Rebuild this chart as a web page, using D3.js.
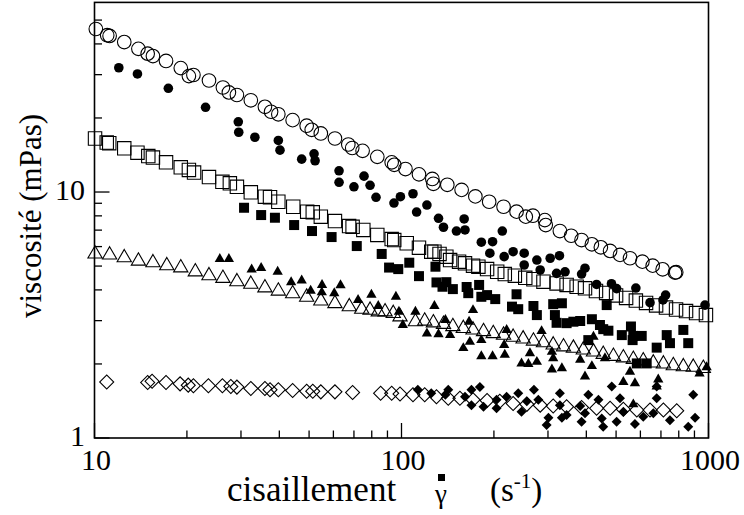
<!DOCTYPE html>
<html><head><meta charset="utf-8">
<script src="https://cdn.jsdelivr.net/npm/d3@7"></script>
<style>body{margin:0;background:#fff}svg{display:block}text{font-family:"Liberation Serif","Times New Roman",serif;fill:#000}</style>
</head><body><svg id="c" width="744" height="515"></svg>
<script>
// ---- data: [shear rate (1/s), viscosity (mPas)] ----
const openCircles = [[10.1,46.0],[11.0,43.4],[11.2,43.1],[12.5,40.7],[13.9,38.2],[14.9,36.5],[15.5,35.7],[17.1,34.1],[19.1,31.9],[20.3,29.6],[21.0,29.9],[23.6,28.4],[26.2,26.6],[27.4,25.4],[29.1,24.8],[32.3,23.6],[35.9,22.2],[37.6,21.2],[39.7,20.7],[44.2,19.6],[49.1,18.6],[51.0,17.9],[54.6,17.3],[60.7,16.5],[67.1,15.6],[69.1,15.1],[74.7,14.7],[83.4,13.9],[92.9,13.2],[94.7,12.9],[103,12.4],[114,11.8],[126,11.3],[127,10.8],[141,10.7],[157,10.2],[174,9.6],[193,9.13],[215,8.71],[237,8.32],[254,7.94],[268,8.01],[293,7.69],[295,7.34],[328,6.94],[357,6.64],[386,6.38],[417,6.13],[446,5.96],[478,5.76],[515,5.55],[555,5.38],[609,5.21],[658,5.02],[709,4.85],[778,4.70],[785,4.72]];
const filledCircles = [[12.0,32.0],[13.8,30.2],[17.4,26.4],[23.0,22.1],[29.4,19.3],[29.5,17.5],[33.3,16.7],[39.7,16.2],[40.2,14.8],[47.3,13.6],[51.9,14.3],[52.3,13.4],[62.6,12.2],[62.6,10.95],[70.0,10.5],[75.5,11.6],[79.0,10.65],[82.6,9.52],[94.5,9.02],[99.2,9.57],[109,9.84],[112,8.29],[121,8.85],[132,7.82],[160,7.77],[137,7.19],[151,6.94],[161,7.01],[213,6.94],[182,6.25],[198,6.28],[194,5.64],[216,5.46],[231,5.72],[251,5.64],[251,5.05],[276,5.29],[283,4.82],[305,5.38],[327,5.51],[320,4.67],[341,4.74],[386,4.64],[396,4.90],[432,4.21],[483,4.24],[502,4.05],[580,4.07],[645,3.55],[711,3.64],[725,3.81],[974,3.47]];
const openSquares = [[10.04,16.5],[10.96,15.9],[11.17,15.8],[12.5,15.05],[13.8,14.45],[14.97,14.0],[15.5,13.8],[17.1,13.2],[19.1,12.6],[20.3,12.3],[21.1,12.0],[23.6,11.5],[26.1,11.0],[27.6,10.85],[29.1,10.5],[32.3,9.97],[35.9,9.57],[37.3,9.52],[39.7,9.13],[44.4,8.71],[49.3,8.32],[51.4,8.27],[54.6,7.94],[60.7,7.62],[67.5,7.27],[69.3,7.22],[75.1,7.01],[83.4,6.69],[92.9,6.44],[94.7,6.38],[104,6.19],[114,5.94],[125,5.72],[128,5.72],[133,5.60],[140,5.46],[144,5.29],[154,5.21],[161,5.13],[171,5.02],[178,4.97],[190,4.86],[205,4.74],[217,4.64],[234,4.57],[253,4.48],[269,4.42],[290,4.32],[320,4.25],[345,4.19],[372,4.12],[396,4.06],[430,3.96],[464,3.89],[500,3.80],[539,3.71],[580,3.62],[626,3.54],[675,3.46],[727,3.39],[784,3.33],[845,3.28],[911,3.22],[981,3.16]];
const filledSquares = [[30.7,8.63],[34.9,8.06],[38.7,7.86],[44.7,7.34],[51.1,6.94],[59.2,6.56],[71.5,6.03],[86.2,5.60],[91.1,4.93],[97.6,4.86],[106,5.16],[114,4.55],[129,4.97],[130,4.29],[136,4.12],[140,4.30],[147,4.03],[163,4.11],[165,3.88],[179,4.19],[182,3.75],[190,3.81],[202,3.67],[237,3.84],[229,3.42],[240,3.34],[269,3.44],[276,3.16],[312,3.50],[333,3.53],[316,3.16],[320,2.94],[345,2.93],[363,2.97],[382,2.99],[417,3.04],[406,2.50],[443,2.88],[454,2.77],[472,2.73],[466,3.47],[522,2.62],[559,2.84],[569,2.60],[606,2.60],[566,2.50],[584,2.01],[629,2.01],[678,2.33],[731,2.62],[749,2.43],[828,2.75],[859,2.43]];
const openTriangles = [[10.04,5.60],[11.2,5.55],[12.5,5.41],[13.9,5.24],[15.5,5.16],[17.2,5.02],[19.1,4.92],[21.3,4.74],[23.6,4.57],[26.2,4.46],[29.1,4.32],[32.3,4.22],[35.9,4.08],[39.7,3.96],[44.2,3.86],[49.1,3.74],[54.6,3.61],[60.7,3.52],[67.6,3.42],[74.2,3.34],[79.0,3.31],[84.0,3.26],[88.4,3.26],[94.0,3.21],[98.9,3.11],[111,2.97],[119,2.99],[127,2.94],[137,2.90],[147,2.84],[159,2.79],[171,2.75],[185,2.71],[199,2.66],[215,2.62],[231,2.57],[249,2.53],[269,2.48],[290,2.44],[312,2.39],[337,2.35],[363,2.32],[391,2.28],[422,2.24],[454,2.19],[490,2.15],[528,2.12],[569,2.09],[613,2.06],[661,2.02],[713,2.00],[768,1.97],[828,1.95],[892,1.94],[962,1.92]];
const filledTriangles = [[25.6,5.34],[27.4,5.34],[32.5,4.84],[34.9,4.91],[39.5,4.74],[43.7,4.30],[47.3,4.37],[50.6,3.97],[55.1,4.19],[55.0,3.91],[60.4,3.88],[63.3,4.18],[72.2,3.64],[79.8,3.82],[84.0,3.44],[95.9,3.75],[98.1,3.26],[101,2.88],[111,3.26],[128,3.44],[139,3.02],[121,2.66],[132,2.64],[144,2.62],[171,3.31],[166,2.97],[167,2.46],[159,2.32],[182,2.50],[182,2.15],[198,2.15],[217,2.18],[220,2.75],[216,2.39],[262,2.21],[246,2.01],[259,2.00],[276,2.04],[286,2.72],[309,2.24],[312,2.11],[309,1.90],[333,1.92],[382,2.08],[417,1.96],[396,1.78],[422,2.58],[460,2.11],[528,1.69],[576,1.67],[555,1.86],[686,1.73],[678,1.62],[569,1.37],[935,1.83],[986,1.94]];
const openDiamonds = [[10.96,1.69],[14.9,1.68],[15.4,1.70],[17.1,1.68],[19.0,1.66],[20.2,1.64],[21.0,1.63],[23.5,1.63],[26.1,1.63],[27.8,1.62],[29.1,1.61],[32.3,1.59],[35.9,1.59],[37.3,1.57],[39.7,1.57],[44.2,1.56],[49.1,1.55],[51.4,1.55],[54.6,1.54],[60.7,1.54],[69.3,1.53],[85.5,1.52],[92.9,1.52],[98.9,1.51],[109,1.50],[119,1.50],[130,1.47],[142,1.45],[155,1.45],[171,1.43],[190,1.42],[209,1.41],[231,1.38],[256,1.37],[283,1.36],[312,1.35],[345,1.34],[386,1.33],[432,1.32],[478,1.32],[528,1.31],[584,1.30],[645,1.30],[713,1.30],[788,1.29]];
const filledDiamonds = [[113,1.57],[125,1.52],[139,1.50],[142,1.57],[161,1.47],[169,1.57],[180,1.61],[169,1.36],[185,1.34],[204,1.43],[204,1.32],[220,1.47],[246,1.28],[240,1.52],[256,1.41],[270,1.57],[279,1.43],[301,1.21],[297,1.13],[328,1.52],[328,1.36],[333,1.21],[345,1.24],[382,1.35],[406,1.50],[386,1.165],[396,1.26],[454,1.11],[449,1.20],[438,1.43],[484,1.62],[502,1.165],[515,1.45],[528,1.28],[576,1.14],[613,1.22],[661,1.26],[678,1.45],[678,1.62],[749,1.18],[892,1.50],[904,1.21],[859,1.11]];
const xMajorTicks = [10, 100, 1000];
const xMinorTicks = [20,30,40,50,60,70,80,90,200,300,400,500,600,700,800,900];
const yMajorTicks = [1, 10];
const yMinorTicks = [2,3,4,5,6,7,8,9,20,30,40,50];
const xTickLabels = ["10","100","1000"];
const yTickLabels = ["1","10"];

const svg = d3.select("#c");
const x = d3.scaleLog().domain([10,1000]).range([94.5,708.5]);
const y = d3.scaleLog().domain([1,59]).range([438,2.4]);

// frame
svg.append("rect").attr("x",x(10)).attr("y",y(59)).attr("width",x(1000)-x(10)).attr("height",y(1)-y(59))
  .attr("fill","none").attr("stroke","#000").attr("stroke-width",1.6);

// ticks (inward)
const tk = svg.append("g").attr("stroke","#000").attr("stroke-width",1.3);
xMajorTicks.forEach(v=>tk.append("line").attr("x1",x(v)).attr("x2",x(v)).attr("y1",y(1)).attr("y2",y(1)-15));
xMinorTicks.forEach(v=>tk.append("line").attr("x1",x(v)).attr("x2",x(v)).attr("y1",y(1)).attr("y2",y(1)-7.5));
yMajorTicks.forEach(v=>tk.append("line").attr("y1",y(v)).attr("y2",y(v)).attr("x1",x(10)).attr("x2",x(10)+15));
yMinorTicks.forEach(v=>tk.append("line").attr("y1",y(v)).attr("y2",y(v)).attr("x1",x(10)).attr("x2",x(10)+7.5));

// tick labels
xMajorTicks.forEach((v,i)=>svg.append("text").attr("x",x(v)+1.5).attr("y",470).attr("text-anchor","middle")
  .attr("font-size",30).text(xTickLabels[i]));
yMajorTicks.forEach((v,i)=>svg.append("text").attr("x",85).attr("y",y(v)+7.5).attr("text-anchor","end")
  .attr("font-size",30).text(yTickLabels[i]));

// axis titles
svg.append("text").attr("transform","translate(41,216) rotate(-90)").attr("text-anchor","middle")
  .attr("font-size",31).text("viscosité (mPas)");
const xt = svg.append("g");
xt.append("text").attr("x",227).attr("y",501).attr("font-size",35).text("cisaillement");
xt.append("text").attr("x",435).attr("y",503).attr("font-size",27).text("γ");
xt.append("rect").attr("x",438).attr("y",474).attr("width",7).attr("height",7).attr("fill","#000");
const t3 = xt.append("text").attr("x",490).attr("y",501).attr("font-size",33);
t3.append("tspan").text("(s");
t3.append("tspan").attr("font-size",21).attr("dy",-13).text("-1");
t3.append("tspan").attr("dy",13).text(")");

// markers
const g = svg.append("g");
const sym = (type,size)=>d3.symbol().type(type).size(size)();
function draw(data, path, filled, rot){
  g.append("g").selectAll("path").data(data).join("path")
    .attr("d", path)
    .attr("transform", d=>`translate(${x(d[0])},${y(d[1])})${rot?" rotate(45)":""}`)
    .attr("fill", filled ? "#000" : "none")
    .attr("stroke", filled ? "none" : "#000")
    .attr("stroke-width", 1.1);
}
draw(openCircles, sym(d3.symbolCircle, Math.PI*6.8*6.8), false);
draw(openSquares, sym(d3.symbolSquare, 13.4*13.4), false);
draw(openTriangles, sym(d3.symbolTriangle, 88), false);
draw(openDiamonds, sym(d3.symbolSquare, 98), false, true);
draw(filledCircles, sym(d3.symbolCircle, Math.PI*4.8*4.8), true);
draw(filledSquares, sym(d3.symbolSquare, 100), true);
draw(filledTriangles, sym(d3.symbolTriangle, 46), true);
draw(filledDiamonds, sym(d3.symbolSquare, 50), true, true);
</script></body></html>
